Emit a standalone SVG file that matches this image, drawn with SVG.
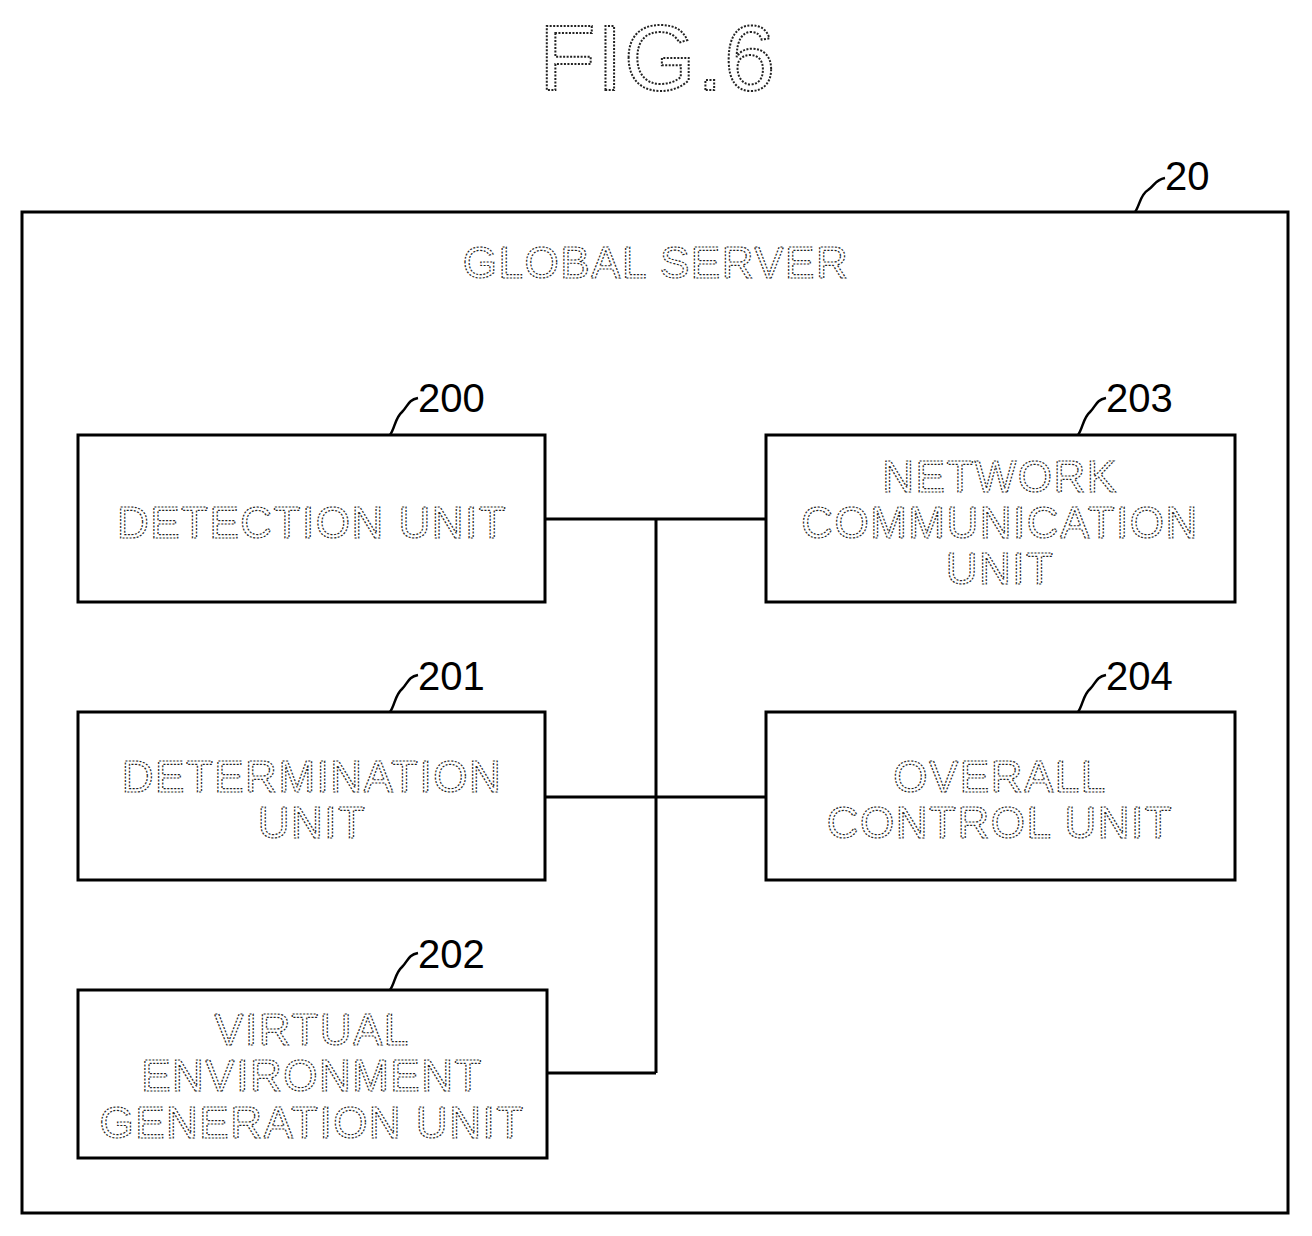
<svg xmlns="http://www.w3.org/2000/svg" width="1312" height="1236" viewBox="0 0 1312 1236">
<style>
.box{fill:#fff;stroke:#000;stroke-width:3}
.t{font-family:"Liberation Sans",Arial,sans-serif;font-size:44px;letter-spacing:1.5px;text-anchor:middle;fill:#fff;stroke:#222;stroke-width:1.2;stroke-dasharray:2 1.5}
.n{font-family:"Liberation Sans",Arial,sans-serif;font-size:40px;fill:#000}
.ld{fill:none;stroke:#000;stroke-width:2.5}
.c{fill:none;stroke:#000;stroke-width:3}
</style>
<rect width="1312" height="1236" fill="#fff"/>
<text x="658" y="90" class="t" style="font-size:92px;stroke-width:2">FIG.6</text>
<g id="server">
<rect class="box" x="22" y="212" width="1266" height="1001"/>
<text class="t" x="656" y="278">GLOBAL SERVER</text>
<path class="ld" d="M1135,212 C1140,205 1140,195 1148,190 C1155,185 1155,180 1165,178"/>
<text class="n" x="1165" y="190">20</text>
</g>
<g id="connectors">
<path class="c" d="M656,519 V1073 M545,519 H766 M545,797 H766 M547,1073 H656"/>
</g>
<g id="n200">
<rect class="box" x="78" y="435" width="467" height="167"/>
<text class="t" x="312" y="538">DETECTION UNIT</text>
<path class="ld" d="M390,435 C395,428 395,418 402,412 C408,406 408,400 418,398"/>
<text class="n" x="418" y="412">200</text>
</g>
<g id="n203">
<rect class="box" x="766" y="435" width="469" height="167"/>
<text class="t" x="1000" y="492">NETWORK</text>
<text class="t" x="1000" y="538">COMMUNICATION</text>
<text class="t" x="1000" y="584">UNIT</text>
<path class="ld" d="M1078,435 C1083,428 1083,418 1090,412 C1096,406 1096,400 1106,398"/>
<text class="n" x="1106" y="412">203</text>
</g>
<g id="n201">
<rect class="box" x="78" y="712" width="467" height="168"/>
<text class="t" x="312" y="792">DETERMINATION</text>
<text class="t" x="312" y="838">UNIT</text>
<path class="ld" d="M390,712 C395,705 395,695 402,689 C408,683 408,677 418,675"/>
<text class="n" x="418" y="690">201</text>
</g>
<g id="n204">
<rect class="box" x="766" y="712" width="469" height="168"/>
<text class="t" x="1000" y="792">OVERALL</text>
<text class="t" x="1000" y="838">CONTROL UNIT</text>
<path class="ld" d="M1078,712 C1083,705 1083,695 1090,689 C1096,683 1096,677 1106,675"/>
<text class="n" x="1106" y="690">204</text>
</g>
<g id="n202">
<rect class="box" x="78" y="990" width="469" height="168"/>
<text class="t" x="312" y="1045">VIRTUAL</text>
<text class="t" x="312" y="1091">ENVIRONMENT</text>
<text class="t" x="312" y="1138">GENERATION UNIT</text>
<path class="ld" d="M390,990 C395,983 395,973 402,967 C408,961 408,955 418,953"/>
<text class="n" x="418" y="968">202</text>
</g>
</svg>
